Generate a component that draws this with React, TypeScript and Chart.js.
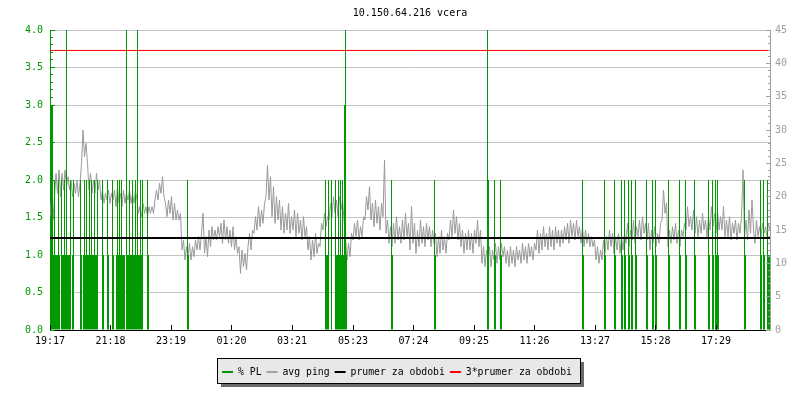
import React, { useEffect, useRef } from "react";
import { Chart, registerables } from "chart.js";

Chart.register(...registerables);

// ---- data ----
const TITLE = "10.150.64.216 vcera";
const X_MAX_MIN = 1440; // minutes shown (from 19:17)
const xTickMinutes = [0, 121, 242, 363, 484, 606, 727, 848, 969, 1090, 1211, 1332];
const xTickLabels = ["19:17", "21:18", "23:19", "01:20", "03:21", "05:23", "07:24", "09:25", "11:26", "13:27", "15:28", "17:29"];

// % packet loss events (minute from start, value)
const plMinutes = [
  3, 5, 7, 9, 11, 13, 15, 17, 19, 23, 25, 27, 29, 31, 33, 35, 37, 39, 41, 45, 47,
  61, 63,
  67, 69, 71, 73, 75, 77, 79, 81, 83, 85, 87, 89, 91, 93, 95,
  105, 107, 115, 117, 125, 127, 133, 135, 137, 139, 141, 143, 145, 147, 149, 153, 155,
  157, 159, 161, 163, 165, 167, 169, 171, 173, 175, 177, 179, 181, 183, 185,
  195, 197, 275, 277,
  551, 553, 555, 557, 563, 571, 573, 575, 577, 579, 581, 583, 585, 587, 589, 591, 593,
  683, 685, 769, 771, 875, 877, 889, 891, 901, 903,
  1065, 1067, 1109, 1111, 1129, 1131, 1143, 1145, 1149, 1151, 1157, 1159, 1163, 1165, 1171, 1173,
  1193, 1195, 1205, 1207, 1211, 1213, 1237, 1239, 1259, 1261, 1271, 1273, 1289, 1291,
  1317, 1319, 1325, 1327, 1331, 1333, 1335, 1337, 1389, 1391, 1421, 1423, 1427, 1429, 1435, 1437, 1439,
];
const plValues = [
  3, 3, 1, 2, 1, 1, 1, 2, 1, 2, 1, 1, 2, 1, 4, 1, 1, 1, 2, 1, 2,
  2, 1,
  1, 2, 1, 2, 1, 1, 2, 1, 2, 1, 1, 2, 1, 1, 2,
  2, 1, 2, 1, 2, 1, 1, 2, 1, 2, 1, 2, 1, 1, 1, 4, 1,
  1, 2, 1, 1, 2, 1, 1, 2, 1, 4, 1, 1, 2, 1, 2,
  2, 1, 2, 1,
  2, 1, 1, 2, 2, 2, 1, 1, 2, 1, 2, 1, 2, 1, 3, 4, 1,
  2, 1, 2, 1, 4, 2, 2, 1, 2, 1,
  2, 1, 2, 1, 2, 1, 2, 1, 2, 1, 2, 1, 2, 1, 2, 1,
  2, 1, 2, 1, 2, 1, 2, 1, 2, 1, 2, 1, 2, 1,
  2, 1, 2, 1, 2, 1, 2, 1, 2, 1, 2, 1, 2, 1, 2, 1, 1,
];

// avg ping [ms], one sample every PING_STEP minutes
const PING_STEP = 3;
const pingValues = [
  17, 19.5, 16.5, 20, 23.5, 20.5, 24, 20, 23.5, 21, 24, 21.5, 23, 21, 22.5, 20, 22, 20.5, 22.5, 20,
  22, 25, 30, 26, 28, 25, 21, 23.5, 20.5, 22.5, 20.5, 23.5, 21, 22.5, 19.5, 21, 19, 20.5, 19.5, 21,
  19, 20.5, 19.5, 21, 18.5, 21.5, 19, 20.5, 18.5, 21, 19, 20.5, 19.5, 21, 19, 20.5, 19, 21, 19.5, 17.5,
  18.5, 17, 19, 17.5, 18.5, 17, 18.5, 17.5, 18.5, 17.5, 19.5, 21, 19.5, 22, 20.5, 23, 20, 19, 17, 19.5,
  17.5, 20, 16.5, 19, 16.5, 18, 16.5, 17.5, 12, 13.5, 10.5, 12.5, 11, 13, 10.5, 12.5, 11, 13.5, 12, 14,
  12, 14.5, 17.5, 11.5, 14, 11, 15, 12.5, 15.5, 13.5, 15, 13.5, 15.5, 14, 16, 13, 16.5, 13.5, 15.5, 13,
  15, 12.5, 15.5, 12, 14, 11.5, 12.5, 8.5, 12, 9.5, 11.5, 9, 12.5, 14.5, 12, 15, 14.5, 17, 15, 18.5,
  15.5, 18, 16, 19, 20, 24.75, 19.5, 23, 17, 21.5, 16, 20, 16.5, 19.5, 15, 18.5, 14.5, 17.5, 15, 19,
  14.5, 17, 15, 18, 14, 17.5, 14.5, 16.5, 13.5, 17, 14, 15.5, 12, 14, 10.5, 13.5, 11, 14.5, 11.5, 13,
  12.5, 16, 15, 17.5, 15.5, 17, 16.5, 19, 17, 20, 17.5, 19.5, 17, 20, 18, 19.5, 16.5, 14, 10.5, 13,
  11, 14.5, 13.5, 16, 14, 16.5, 13.5, 15.5, 14, 17, 16.5, 20, 18, 21.5, 16.5, 19, 15.5, 19.5, 16, 18.5,
  15, 19, 17, 25.5, 14.5, 16.5, 13, 15.5, 12.5, 16, 13, 17, 13.5, 15.5, 13, 16.5, 13.5, 17.5, 14, 16,
  12, 18.5, 13, 16, 11.5, 15, 12.5, 16.5, 13, 15.5, 12.5, 16, 13.5, 15.5, 12.5, 15, 13, 14.5, 11, 14,
  11.5, 15, 12, 14, 11.5, 14.5, 13.5, 16.5, 14, 18, 14.5, 17, 13.5, 16, 12.5, 15, 11.5, 14.5, 12, 15,
  12, 14.5, 11.5, 15, 13, 16.5, 12.5, 15, 10, 12.5, 9.5, 12, 10.5, 12.5, 9.5, 12, 10.5, 13, 10, 12.5,
  10.5, 13, 11, 12.5, 10, 12, 9.5, 12.5, 10, 12, 9.5, 12.5, 10.5, 12, 10, 13, 10.5, 12.5, 10, 13,
  11, 12.5, 10.5, 13, 12, 15, 11.5, 14.5, 12, 15.5, 12.5, 14.5, 12, 15.5, 12.5, 15, 12, 15.5, 13, 15,
  12.5, 15, 13, 15.5, 13.5, 16, 13, 16.5, 14, 16, 13.5, 16.5, 14, 15.5, 13, 15.5, 12.5, 15, 13, 14.5,
  12.5, 14, 12.5, 13.5, 10.5, 12.5, 10, 12, 10.5, 13.5, 11.5, 14, 12, 15, 12.5, 14.5, 11.5, 14, 12, 14.5,
  11.5, 14, 12, 14.5, 13, 16, 12.5, 15, 13.5, 16.5, 13, 15.5, 14, 16.5, 13.5, 17, 14.5, 16, 13.5, 16,
  12, 15, 13, 15.5, 12.5, 14.5, 13, 16, 16.5, 21, 17.5, 19, 12.5, 15, 13, 15.5, 13.5, 16, 13, 15,
  12.5, 15, 14, 16, 15, 18.5, 15.5, 17, 15, 18, 14.5, 17, 14, 16.5, 14.5, 17.5, 15, 16.5, 14, 17,
  15, 18.5, 15.5, 17.5, 14.5, 18, 15, 17, 15, 18.5, 14, 16.5, 14, 17, 13.5, 16, 14.5, 16.5, 13.5, 16,
  14.5, 17, 24, 14, 16.5, 13.5, 18, 14.5, 19.5, 15, 13, 16.5, 14, 15.5, 14, 16, 14.5, 15.5, 14, 16,
  15,
];

const AVG_PING = 13.8; // prumer za obdobi [ms]
const AVG3_PING = 41.93; // 3*prumer za obdobi [ms], as drawn

const LEFT_MAX = 4;
const LEFT_STEP = 0.5;
const LEFT_MINOR = 0.1;
const RIGHT_MAX = 45;
const RIGHT_STEP = 5;
const RIGHT_MINOR = 1;

// ---- styles ----
const FONT = "'DejaVu Sans Mono', 'Liberation Mono', monospace";
const GREEN = "#009900";
const GRAY = "#999999";
const GRAY_AXIS = "#a0a0a0";
const GRID = "#c4c4c4";
const legendColors = [GREEN, "#a0a0a0", "#000000", "#ff0000"];

const align = (p: number) => Math.round(p - 0.5) + 0.5;

const innerTicks = {
  id: "innerTicks",
  afterDraw(chart: any) {
    const { ctx, chartArea: a, scales } = chart;
    ctx.save();
    ctx.lineWidth = 1;
    ctx.strokeStyle = GREEN;
    const nL = Math.round(LEFT_MAX / LEFT_MINOR);
    for (let k = 0; k <= nL; k++) {
      const py = align(scales.y.getPixelForValue(k * LEFT_MINOR));
      const major = k % Math.round(LEFT_STEP / LEFT_MINOR) === 0;
      ctx.beginPath();
      ctx.moveTo(a.left, py);
      ctx.lineTo(a.left + 1 + (major ? 4 : 2), py);
      ctx.stroke();
    }
    ctx.strokeStyle = GRAY_AXIS;
    const nR = Math.round(RIGHT_MAX / RIGHT_MINOR);
    for (let k = 0; k <= nR; k++) {
      const py = align(scales.y1.getPixelForValue(k * RIGHT_MINOR));
      const major = k % Math.round(RIGHT_STEP / RIGHT_MINOR) === 0;
      ctx.beginPath();
      ctx.moveTo(a.right, py);
      ctx.lineTo(a.right - (major ? 4 : 2), py);
      ctx.stroke();
    }
    ctx.strokeStyle = "#000";
    for (const m of xTickMinutes) {
      const px = align(scales.x.getPixelForValue(m));
      ctx.beginPath();
      ctx.moveTo(px, a.bottom);
      ctx.lineTo(px, a.bottom - 5);
      ctx.stroke();
    }
    ctx.restore();
  },
};

const legendBox = {
  id: "legendBox",
  beforeDraw(chart: any) {
    const lg = chart.legend;
    if (!lg || !lg.legendHitBoxes || !lg.legendHitBoxes.length) return;
    let l = Infinity, r = -Infinity;
    for (const h of lg.legendHitBoxes) {
      l = Math.min(l, h.left);
      r = Math.max(r, h.left + h.width);
    }
    const x = Math.round(l - 5) + 0.5;
    const w = Math.round(r + 8 - (l - 5));
    const y = Math.round(lg.top - 4) + 0.5;
    const h = 25;
    const { ctx } = chart;
    ctx.save();
    ctx.fillStyle = "#6a6a6a";
    ctx.fillRect(x + 3.5, y + 3.5, w, h);
    ctx.fillStyle = "#e8e8e8";
    ctx.fillRect(x, y, w, h);
    ctx.strokeStyle = "#000";
    ctx.lineWidth = 1;
    ctx.strokeRect(x, y, w, h);
    ctx.restore();
  },
};

export default function App() {
  const ref = useRef<HTMLCanvasElement>(null);
  useEffect(() => {
    document.body.style.margin = "0";
    Chart.defaults.font.family = FONT;
    Chart.defaults.font.size = 10;
    const canvas = ref.current!;
    const chart = new Chart(canvas, {
      type: "line",
      data: {
        datasets: [
          {
            type: "bar",
            label: "% PL",
            data: plMinutes.map((m, i) => ({ x: m, y: plValues[i] })),
            backgroundColor: GREEN,
            borderWidth: 0,
            barThickness: 1,
            inflateAmount: 0,
            grouped: false,
            yAxisID: "y",
            order: 3,
          } as any,
          {
            type: "line",
            label: "avg ping",
            data: pingValues.map((v, i) => ({ x: i * PING_STEP, y: v })),
            borderColor: GRAY,
            borderWidth: 1,
            pointRadius: 0,
            tension: 0,
            yAxisID: "y1",
            order: 4,
          },
          {
            type: "line",
            label: "prumer za obdobi",
            data: [
              { x: 0, y: AVG_PING },
              { x: X_MAX_MIN, y: AVG_PING },
            ],
            borderColor: "#000",
            borderWidth: 2,
            pointRadius: 0,
            yAxisID: "y1",
            order: 2,
          },
          {
            type: "line",
            label: "3*prumer za obdobi",
            data: [
              { x: 0, y: AVG3_PING },
              { x: X_MAX_MIN, y: AVG3_PING },
            ],
            borderColor: "#ff0000",
            borderWidth: 1,
            pointRadius: 0,
            yAxisID: "y1",
            order: 1,
          },
        ],
      },
      options: {
        responsive: false,
        maintainAspectRatio: false,
        animation: false,
        events: [],
        layout: { padding: { top: 0, bottom: 13, left: 0, right: 6 } },
        plugins: {
          tooltip: { enabled: false },
          title: {
            display: true,
            text: TITLE,
            color: "#000",
            fullSize: false,
            font: { family: FONT, size: 10, weight: "normal" },
            padding: { top: 7, bottom: 11 },
          },
          legend: {
            display: true,
            position: "bottom",
            labels: {
              font: { family: FONT, size: 9.8 },
              color: "#000",
              boxWidth: 11,
              boxHeight: 2,
              padding: 5,
              generateLabels: (c: any) =>
                c.data.datasets.map((ds: any, i: number) => ({
                  text: ds.label,
                  fillStyle: legendColors[i],
                  strokeStyle: legendColors[i],
                  lineWidth: 0,
                  hidden: false,
                  datasetIndex: i,
                  fontColor: "#000",
                })),
            },
          },
        },
        scales: {
          x: {
            type: "linear",
            min: 0,
            max: X_MAX_MIN,
            offset: false,
            grid: { display: false, drawTicks: false },
            border: { color: "#000", width: 1 },
            ticks: {
              color: "#000",
              font: { family: FONT, size: 10 },
              padding: 5,
              autoSkip: false,
              maxRotation: 0,
              minRotation: 0,
              callback: (v: any) => {
                const i = xTickMinutes.indexOf(Number(v));
                return i >= 0 ? xTickLabels[i] : "";
              },
            },
            afterBuildTicks: (s: any) => {
              s.ticks = xTickMinutes.map((v) => ({ value: v }));
            },
            afterFit: (s: any) => {
              s.height = 32.2;
            },
          },
          y: {
            type: "linear",
            position: "left",
            min: 0,
            max: LEFT_MAX,
            grid: {
              drawTicks: false,
              color: (c: any) => (c.tick && c.tick.value === 0 ? "rgba(0,0,0,0)" : GRID),
              lineWidth: 1,
            },
            border: { color: GREEN, width: 1 },
            ticks: {
              stepSize: LEFT_STEP,
              color: GREEN,
              font: { family: FONT, size: 10 },
              padding: 7,
              callback: (v: any) => Number(v).toFixed(1),
            },
            afterFit: (s: any) => {
              s.width = 50;
            },
          },
          y1: {
            type: "linear",
            position: "right",
            min: 0,
            max: RIGHT_MAX,
            grid: { drawOnChartArea: false, drawTicks: false },
            border: { color: GRAY_AXIS, width: 1 },
            ticks: {
              stepSize: RIGHT_STEP,
              color: GRAY_AXIS,
              font: { family: FONT, size: 10 },
              padding: 5,
            },
            afterFit: (s: any) => {
              s.width = 24;
            },
          },
        },
      },
      plugins: [legendBox, innerTicks],
    } as any);
    return () => chart.destroy();
  }, []);
  return (
    <div style={{ width: 800, height: 400 }}>
      <canvas ref={ref} width={800} height={400} style={{ display: "block", width: 800, height: 400 }} />
    </div>
  );
}
